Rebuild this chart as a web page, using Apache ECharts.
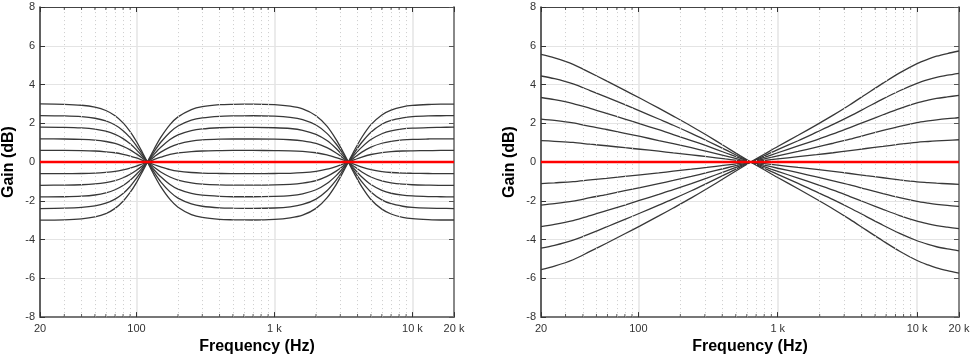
<!DOCTYPE html>
<html><head><meta charset="utf-8">
<script src="https://cdn.jsdelivr.net/npm/echarts@6/dist/echarts.min.js"></script>
<style>html,body{margin:0;padding:0;background:#fff}#c{width:973px;height:360px}</style>
</head><body><div id="c"></div>
<script>
// ---------- data ----------
const leftFreqs = [20, 30, 40, 50, 60, 70, 80, 90, 100, 110, 120, 135, 150, 175, 200, 250, 300, 400, 500, 700, 1000, 1300, 1600, 2000, 2400, 2800, 3100, 3430, 3800, 4300, 5000, 6000, 7000, 8500, 10000, 13000, 16000, 20000];
const leftPos30 = [3.00, 2.98, 2.93, 2.83, 2.66, 2.39, 2.02, 1.57, 1.06, 0.52, 0, -0.70, -1.27, -1.93, -2.33, -2.71, -2.86, -2.96, -2.98, -2.99, -2.96, -2.88, -2.74, -2.39, -1.85, -1.16, -0.60, 0, 0.61, 1.28, 1.93, 2.43, 2.68, 2.85, 2.92, 2.97, 2.99, 2.99];
const leftPos24 = [2.40, 2.38, 2.34, 2.26, 2.12, 1.91, 1.62, 1.26, 0.84, 0.42, 0, -0.56, -1.02, -1.54, -1.86, -2.16, -2.28, -2.36, -2.38, -2.39, -2.37, -2.31, -2.19, -1.91, -1.48, -0.93, -0.48, 0, 0.49, 1.02, 1.54, 1.95, 2.15, 2.28, 2.34, 2.38, 2.39, 2.40];
const leftPos18 = [1.80, 1.79, 1.76, 1.70, 1.59, 1.43, 1.21, 0.94, 0.63, 0.31, 0, -0.42, -0.76, -1.16, -1.40, -1.62, -1.71, -1.77, -1.79, -1.79, -1.77, -1.73, -1.64, -1.43, -1.11, -0.70, -0.36, 0, 0.37, 0.77, 1.16, 1.46, 1.61, 1.71, 1.75, 1.78, 1.79, 1.80];
const leftPos12 = [1.20, 1.19, 1.17, 1.13, 1.06, 0.96, 0.81, 0.63, 0.42, 0.21, 0, -0.28, -0.51, -0.77, -0.93, -1.08, -1.14, -1.18, -1.19, -1.19, -1.18, -1.15, -1.09, -0.96, -0.74, -0.47, -0.24, 0, 0.24, 0.51, 0.77, 0.97, 1.07, 1.14, 1.17, 1.19, 1.20, 1.20];
const leftPos06 = [0.60, 0.60, 0.59, 0.57, 0.53, 0.48, 0.40, 0.31, 0.21, 0.10, 0, -0.14, -0.25, -0.39, -0.47, -0.54, -0.57, -0.59, -0.60, -0.60, -0.59, -0.58, -0.55, -0.48, -0.37, -0.23, -0.12, 0, 0.12, 0.26, 0.39, 0.49, 0.54, 0.57, 0.58, 0.59, 0.60, 0.60];
const leftNeg06 = [-0.60, -0.60, -0.59, -0.57, -0.53, -0.48, -0.40, -0.31, -0.21, -0.10, 0, 0.14, 0.25, 0.39, 0.47, 0.54, 0.57, 0.59, 0.60, 0.60, 0.59, 0.58, 0.55, 0.48, 0.37, 0.23, 0.12, 0, -0.12, -0.26, -0.39, -0.49, -0.54, -0.57, -0.58, -0.59, -0.60, -0.60];
const leftNeg12 = [-1.20, -1.19, -1.17, -1.13, -1.06, -0.96, -0.81, -0.63, -0.42, -0.21, 0, 0.28, 0.51, 0.77, 0.93, 1.08, 1.14, 1.18, 1.19, 1.19, 1.18, 1.15, 1.09, 0.96, 0.74, 0.47, 0.24, 0, -0.24, -0.51, -0.77, -0.97, -1.07, -1.14, -1.17, -1.19, -1.20, -1.20];
const leftNeg18 = [-1.80, -1.79, -1.76, -1.70, -1.59, -1.43, -1.21, -0.94, -0.63, -0.31, 0, 0.42, 0.76, 1.16, 1.40, 1.62, 1.71, 1.77, 1.79, 1.79, 1.77, 1.73, 1.64, 1.43, 1.11, 0.70, 0.36, 0, -0.37, -0.77, -1.16, -1.46, -1.61, -1.71, -1.75, -1.78, -1.79, -1.80];
const leftNeg24 = [-2.40, -2.38, -2.34, -2.26, -2.12, -1.91, -1.62, -1.26, -0.84, -0.42, 0, 0.56, 1.02, 1.54, 1.86, 2.16, 2.28, 2.36, 2.38, 2.39, 2.37, 2.31, 2.19, 1.91, 1.48, 0.93, 0.48, 0, -0.49, -1.02, -1.54, -1.95, -2.15, -2.28, -2.34, -2.38, -2.39, -2.40];
const leftNeg30 = [-3.00, -2.98, -2.93, -2.83, -2.66, -2.39, -2.02, -1.57, -1.06, -0.52, 0, 0.70, 1.27, 1.93, 2.33, 2.71, 2.86, 2.96, 2.98, 2.99, 2.96, 2.88, 2.74, 2.39, 1.85, 1.16, 0.60, 0, -0.61, -1.28, -1.93, -2.43, -2.68, -2.85, -2.92, -2.97, -2.99, -2.99];

const rightFreqs = [20, 25, 34, 45, 59, 80, 103, 140, 178, 240, 310, 420, 536, 640, 800, 1000, 1400, 1900, 2500, 3300, 4300, 5700, 7500, 10000, 12000, 13800, 16500, 20000];
const rightPos5 = [5.55, 5.37, 5.04, 4.61, 4.19, 3.70, 3.29, 2.78, 2.37, 1.85, 1.38, 0.80, 0.33, 0, -0.40, -0.80, -1.38, -1.92, -2.42, -2.96, -3.50, -4.07, -4.60, -5.08, -5.31, -5.46, -5.60, -5.73];
const rightPos4 = [4.44, 4.30, 4.03, 3.69, 3.35, 2.96, 2.63, 2.22, 1.90, 1.48, 1.10, 0.64, 0.26, 0, -0.32, -0.64, -1.10, -1.54, -1.94, -2.37, -2.80, -3.26, -3.68, -4.06, -4.25, -4.37, -4.48, -4.58];
const rightPos3 = [3.33, 3.22, 3.02, 2.77, 2.51, 2.22, 1.97, 1.67, 1.42, 1.11, 0.83, 0.48, 0.20, 0, -0.24, -0.48, -0.83, -1.15, -1.45, -1.78, -2.10, -2.44, -2.76, -3.05, -3.19, -3.28, -3.36, -3.44];
const rightPos2 = [2.22, 2.15, 2.02, 1.84, 1.68, 1.48, 1.32, 1.11, 0.95, 0.74, 0.55, 0.32, 0.13, 0, -0.16, -0.32, -0.55, -0.77, -0.97, -1.18, -1.40, -1.63, -1.84, -2.03, -2.12, -2.18, -2.24, -2.29];
const rightPos1 = [1.11, 1.07, 1.01, 0.92, 0.84, 0.74, 0.66, 0.56, 0.47, 0.37, 0.28, 0.16, 0.07, 0, -0.08, -0.16, -0.28, -0.38, -0.48, -0.59, -0.70, -0.81, -0.92, -1.02, -1.06, -1.09, -1.12, -1.15];
const rightNeg1 = [-1.11, -1.07, -1.01, -0.92, -0.84, -0.74, -0.66, -0.56, -0.47, -0.37, -0.28, -0.16, -0.07, 0, 0.08, 0.16, 0.28, 0.38, 0.48, 0.59, 0.70, 0.81, 0.92, 1.02, 1.06, 1.09, 1.12, 1.15];
const rightNeg2 = [-2.22, -2.15, -2.02, -1.84, -1.68, -1.48, -1.32, -1.11, -0.95, -0.74, -0.55, -0.32, -0.13, 0, 0.16, 0.32, 0.55, 0.77, 0.97, 1.18, 1.40, 1.63, 1.84, 2.03, 2.12, 2.18, 2.24, 2.29];
const rightNeg3 = [-3.33, -3.22, -3.02, -2.77, -2.51, -2.22, -1.97, -1.67, -1.42, -1.11, -0.83, -0.48, -0.20, 0, 0.24, 0.48, 0.83, 1.15, 1.45, 1.78, 2.10, 2.44, 2.76, 3.05, 3.19, 3.28, 3.36, 3.44];
const rightNeg4 = [-4.44, -4.30, -4.03, -3.69, -3.35, -2.96, -2.63, -2.22, -1.90, -1.48, -1.10, -0.64, -0.26, 0, 0.32, 0.64, 1.10, 1.54, 1.94, 2.37, 2.80, 3.26, 3.68, 4.06, 4.25, 4.37, 4.48, 4.58];
const rightNeg5 = [-5.55, -5.37, -5.04, -4.61, -4.19, -3.70, -3.29, -2.78, -2.37, -1.85, -1.38, -0.80, -0.33, 0, 0.40, 0.80, 1.38, 1.92, 2.42, 2.96, 3.50, 4.07, 4.60, 5.08, 5.31, 5.46, 5.60, 5.73];

const refLineFreqs = [20, 20000];
const refLineGain = [0, 0];

const minorFreqs = [30, 40, 50, 60, 70, 80, 90, 200, 300, 400, 500, 600, 700, 800, 900, 2000, 3000, 4000, 5000, 6000, 7000, 8000, 9000];
const tickLabelMap = {20: '20', 100: '100', 1000: '1 k', 10000: '10 k', 20000: '20 k'};

// ---------- chart ----------
const FONT = 'Liberation Sans, Arial, sans-serif';
const chart = echarts.init(document.getElementById('c'), null, {renderer: 'canvas'});

const gridDefs = [
  {left: 35, top: 7, width: 419, height: 311},
  {left: 541, top: 7, width: 418, height: 311}
];
const namePads = [[0, 0, 0, 20], [0, 0, 0, 0]];

const xAxes = [], yAxes = [], series = [];
const curveSets = [
  {freqs: leftFreqs, curves: [leftPos30, leftPos24, leftPos18, leftPos12, leftPos06, leftNeg06, leftNeg12, leftNeg18, leftNeg24, leftNeg30]},
  {freqs: rightFreqs, curves: [rightPos5, rightPos4, rightPos3, rightPos2, rightPos1, rightNeg1, rightNeg2, rightNeg3, rightNeg4, rightNeg5]}
];

gridDefs.forEach((g, gi) => {
  const xb = xAxes.length, yb = yAxes.length;
  xAxes.push({
    type: 'log', logBase: 10, min: 20, max: 20000, gridIndex: gi, position: 'bottom',
    name: 'Frequency (Hz)', nameLocation: 'middle', nameGap: 19,
    nameTextStyle: {fontFamily: FONT, fontWeight: 'bold', fontSize: 16, color: '#000', padding: namePads[gi]},
    axisLine: {show: true, onZero: false, lineStyle: {color: '#777', width: 2}},
    axisTick: {show: true, inside: true, length: 5, lineStyle: {color: '#333', width: 1}},
    axisLabel: {show: true, fontSize: 11, color: '#333', fontFamily: FONT, margin: 6,
      formatter: v => { const r = Math.round(v); return tickLabelMap[r] !== undefined ? tickLabelMap[r] : ''; }},
    splitLine: {show: true, lineStyle: {color: '#e4e4e4', width: 1.5}},
    minorTick: {show: false}, minorSplitLine: {show: false}
  });
  xAxes.push({
    type: 'log', logBase: 10, min: 20, max: 20000, gridIndex: gi, position: 'top',
    axisLine: {show: true, onZero: false, lineStyle: {color: '#444', width: 1.2}},
    axisTick: {show: true, inside: true, length: 5, lineStyle: {color: '#333', width: 1}},
    axisLabel: {show: false}, splitLine: {show: false}
  });
  yAxes.push({
    type: 'value', min: -8, max: 8, interval: 2, gridIndex: gi, position: 'left',
    name: 'Gain (dB)', nameLocation: 'middle', nameGap: 23,
    nameTextStyle: {fontFamily: FONT, fontWeight: 'bold', fontSize: 16, color: '#000'},
    axisLine: {show: true, onZero: false, lineStyle: {color: '#333', width: 1.5}},
    axisTick: {show: true, inside: true, length: 5, lineStyle: {color: '#333', width: 1}},
    axisLabel: {fontSize: 11, color: '#333', fontFamily: FONT, margin: 5},
    splitLine: {show: true, lineStyle: {color: '#e4e4e4', width: 1}}
  });
  yAxes.push({
    type: 'value', min: -8, max: 8, interval: 2, gridIndex: gi, position: 'right',
    axisLine: {show: true, onZero: false, lineStyle: {color: '#888', width: 2}},
    axisTick: {show: true, inside: true, length: 5, lineStyle: {color: '#555', width: 1}},
    axisLabel: {show: false}, splitLine: {show: false}
  });

  // dotted minor grid lines
  series.push({
    type: 'line', xAxisIndex: xb, yAxisIndex: yb, silent: true, z: 1,
    data: [[20, 0]], showSymbol: false, lineStyle: {opacity: 0},
    markLine: {
      silent: true, symbol: ['none', 'none'], label: {show: false}, animation: false,
      lineStyle: {type: [1, 3], color: '#cccccc', width: 1},
      emphasis: {disabled: true},
      data: minorFreqs.map(f => ({xAxis: f}))
    }
  });
  // minor ticks bottom & top
  series.push({
    type: 'scatter', xAxisIndex: xb, yAxisIndex: yb, silent: true, clip: false, z: 5,
    symbol: 'rect', symbolSize: [1, 3], symbolOffset: [0, -1.5],
    itemStyle: {color: '#333'},
    data: minorFreqs.map(f => [f, -8])
  });
  series.push({
    type: 'scatter', xAxisIndex: xb, yAxisIndex: yb, silent: true, clip: false, z: 5,
    symbol: 'rect', symbolSize: [1, 3], symbolOffset: [0, 1.5],
    itemStyle: {color: '#333'},
    data: minorFreqs.map(f => [f, 8])
  });

  const cs = curveSets[gi];
  cs.curves.forEach(vals => {
    series.push({
      type: 'line', xAxisIndex: xb, yAxisIndex: yb, silent: true, z: 3,
      showSymbol: false, smooth: 0.3,
      lineStyle: {color: '#383838', width: 1.3},
      data: cs.freqs.map((f, i) => [f, vals[i]])
    });
  });
  series.push({
    type: 'line', xAxisIndex: xb, yAxisIndex: yb, silent: true, z: 4,
    showSymbol: false,
    lineStyle: {color: '#ff0000', width: 2.5},
    data: refLineFreqs.map((f, i) => [f, refLineGain[i]])
  });
});

chart.setOption({
  animation: false,
  backgroundColor: '#fff',
  textStyle: {fontFamily: FONT},
  grid: gridDefs,
  xAxis: xAxes,
  yAxis: yAxes,
  series: series
});
</script>
</body></html>
